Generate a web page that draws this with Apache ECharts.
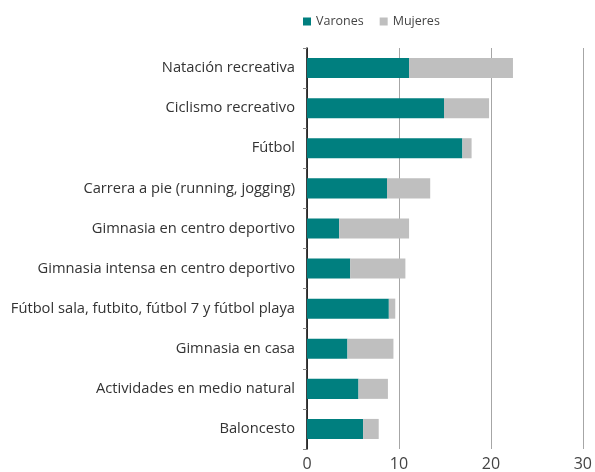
<!DOCTYPE html>
<html>
<head>
<meta charset="utf-8">
<script src="https://cdn.jsdelivr.net/npm/echarts@6/dist/echarts.min.js"></script>
<style>
  html, body { margin: 0; padding: 0; background: #fff; }
  #chart { width: 595px; height: 472px; }
</style>
</head>
<body>
<div id="chart"></div>
<script>
// Sports activities, share by sex (top to bottom)
const categories = [
  'Natación recreativa',
  'Ciclismo recreativo',
  'Fútbol',
  'Carrera a pie (running, jogging)',
  'Gimnasia en centro deportivo',
  'Gimnasia intensa en centro deportivo',
  'Fútbol sala, futbito, fútbol 7 y fútbol playa',
  'Gimnasia en casa',
  'Actividades en medio natural',
  'Baloncesto'
];
const varones = [11.1, 14.9, 16.9, 8.7, 3.5, 4.7, 8.9, 4.4, 5.6, 6.1];
const mujeres = [11.3, 4.9, 1.0, 4.7, 7.6, 6.0, 0.7, 5.0, 3.2, 1.7];
const xTicks = [0, 10, 20, 30];

const FONT = '"Open Sans", Lato, sans-serif';
const chart = echarts.init(document.getElementById('chart'));
chart.setOption({
  animation: false,
  textStyle: { fontFamily: FONT },
  legend: {
    top: 10,
    left: 298,
    itemWidth: 8,
    itemHeight: 8,
    itemGap: 16,
    icon: 'rect',
    textStyle: { fontSize: 12.5, color: '#444', fontFamily: FONT },
    data: ['Varones', 'Mujeres']
  },
  grid: { left: 307, right: 10, top: 48, bottom: 22, containLabel: false },
  xAxis: {
    type: 'value',
    min: xTicks[0],
    max: xTicks[xTicks.length - 1],
    interval: 10,
    axisLine: { show: false },
    axisTick: { show: false },
    splitLine: { show: true, lineStyle: { color: '#a6a6a6', width: 1 } },
    axisLabel: { fontSize: 16, color: '#444', margin: 7, fontFamily: FONT }
  },
  yAxis: {
    type: 'category',
    inverse: true,
    data: categories,
    axisLine: { show: true, lineStyle: { color: '#000', width: 1.5 } },
    axisTick: { show: true, length: 4, lineStyle: { color: '#888' } },
    axisLabel: { fontSize: 14.7, color: '#333', margin: 12, fontFamily: FONT }
  },
  series: [
    {
      name: 'Varones', type: 'bar', stack: 'total', data: varones,
      barWidth: '50%', itemStyle: { color: '#007f7f' }
    },
    {
      name: 'Mujeres', type: 'bar', stack: 'total', data: mujeres,
      barWidth: '50%', itemStyle: { color: '#bfbfbf' }
    }
  ]
});
</script>
</body>
</html>
